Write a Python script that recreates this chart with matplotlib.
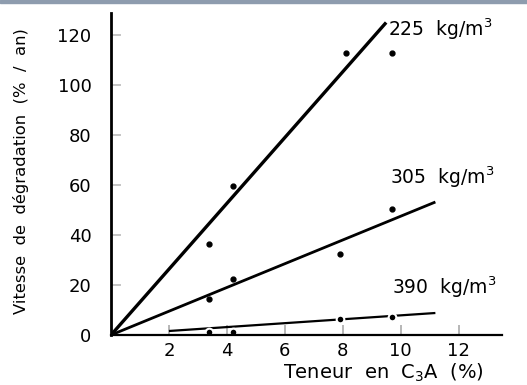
import matplotlib
matplotlib.use("Agg")
import matplotlib.pyplot as plt

plt.rcParams["font.family"] = ["DejaVu Sans"]

# --- data ---
c3a_225 = [3.4, 4.2, 8.1, 9.7]
v_225 = [36.4, 59.6, 113.0, 113.0]
fit_x_225 = [0, 9.5]
fit_y_225 = [0, 125.0]

c3a_305 = [3.4, 4.2, 7.9, 9.7]
v_305 = [14.4, 22.4, 32.4, 50.4]
fit_x_305 = [0, 11.2]
fit_y_305 = [0, 53.2]

c3a_390 = [3.4, 4.2, 7.9, 9.7]
v_390 = [1.2, 1.2, 6.4, 7.2]
fit_x_390 = [2.0, 11.2]
fit_y_390 = [1.6, 8.8]

labels = ["225  kg/m$^3$", "305  kg/m$^3$", "390  kg/m$^3$"]
label_pos = [(9.55, 122.5), (9.65, 63.0), (9.7, 19.3)]

x_ticks = [2, 4, 6, 8, 10, 12]
y_ticks = [0, 20, 40, 60, 80, 100, 120]

fig = plt.figure(figsize=(5.27, 3.85), dpi=100)
ax = fig.add_axes([111 / 527, 1 - 335 / 385, 391 / 527, 322 / 385])

# thin grey band along the top edge of the scan
fig.patches.append(plt.Rectangle((0, 1 - 3 / 385), 1, 3 / 385,
                                 transform=fig.transFigure, color="#8e9cae"))

ax.plot(fit_x_225, fit_y_225, color="black", linewidth=2.4, solid_capstyle="butt")
ax.plot(fit_x_305, fit_y_305, color="black", linewidth=2.0, solid_capstyle="butt")
ax.plot(fit_x_390, fit_y_390, color="black", linewidth=1.6, solid_capstyle="butt")

ax.plot(c3a_225, v_225, "o", color="black", markersize=3.5, linestyle="none")
ax.plot(c3a_305, v_305, "o", color="black", markersize=3.5, linestyle="none")
ax.plot(c3a_390, v_390, "o", markerfacecolor="black", markeredgecolor="white",
        markeredgewidth=1.5, markersize=5.5, linestyle="none")

for txt, (tx, ty) in zip(labels, label_pos):
    ax.text(tx, ty, txt, fontsize=13.5, ha="left", va="center")

ax.set_xlim(0, 13.5)
ax.set_ylim(0, 128.8)
ax.set_xticks(x_ticks)
ax.set_yticks(y_ticks)
ax.tick_params(axis="x", direction="in", length=7, width=1.2, color="#aaaaaa",
               labelsize=13, pad=5)
ax.tick_params(axis="y", direction="in", length=7, width=1.2, color="#bbbbbb",
               labelsize=13, pad=14)

for s in ["top", "right"]:
    ax.spines[s].set_visible(False)
ax.spines["left"].set_linewidth(2)
ax.spines["bottom"].set_linewidth(1.6)

ax.set_ylabel("Vitesse  de  dégradation  (%  /  an)", fontsize=11.8)
ax.yaxis.set_label_coords(-0.21, 0.51)
fig.text(383 / 527, 1 - 373 / 385, "Teneur  en  C$_3$A  (%)", fontsize=14,
         ha="center", va="center")

fig.savefig("out.png", dpi=100)
